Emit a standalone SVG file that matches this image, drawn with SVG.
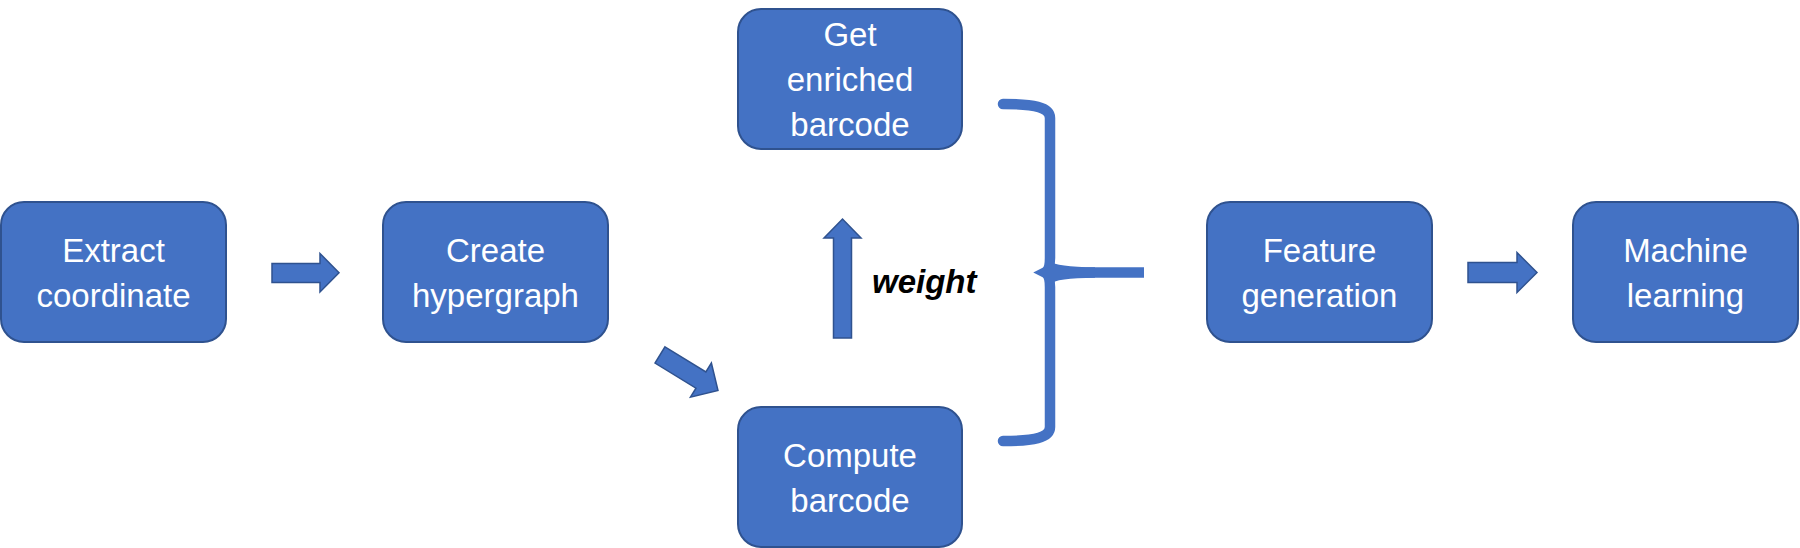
<svg xmlns="http://www.w3.org/2000/svg" width="1800" height="548" viewBox="0 0 1800 548">
<style>
.box{fill:#4472C4;stroke:#2F528F;stroke-width:2}
.lbl{fill:#FFFFFF;font-family:"Liberation Sans",Arial,sans-serif;font-size:33px;text-anchor:middle}
.arr{fill:#4472C4;stroke:#2F528F;stroke-width:1.5;stroke-linejoin:miter}
.brace{fill:none;stroke:#4472C4;stroke-width:10.5}
.wt{fill:#000000;font-family:"Liberation Sans",Arial,sans-serif;font-size:33px;font-weight:bold;font-style:italic}
</style>
<rect width="1800" height="548" fill="#FFFFFF"/>
<g id="connectors">
<polygon class="arr" points="272,263.5 320,263.5 320,253.5 339,272.7 320,292 320,282.5 272,282.5"/>
<polygon class="arr" points="1468,262.5 1517,262.5 1517,252.5 1537,272.5 1517,292.5 1517,282.5 1468,282.5"/>
<polygon class="arr" transform="translate(660,355) rotate(31.5)" points="0,-9.5 48,-9.5 48,-20 68,0 48,20 48,9.5 0,9.5"/>
<polygon class="arr" points="833.5,338 833.5,238 824,238 842.5,219 861,238 851.5,238 851.5,338"/>
<path class="brace" stroke-linecap="round" d="M1003,104 C1033,104 1050,107 1050,118 L1050,258 C1050,268 1048,271 1045,272.5 C1048,274 1050,277 1050,287 L1050,427 C1050,438 1033,441 1003,441"/>
<path class="brace" stroke-linecap="butt" d="M1046,272.5 L1144,272.5"/>
<path fill="#4472C4" d="M1050,261 Q1056,267 1095,267.3 L1095,277.7 Q1056,278 1050,284 Z"/>
<text class="wt" x="872" y="293">weight</text>
</g>
<g id="extract">
<rect class="box" x="1" y="202" width="225" height="140" rx="23"/>
<text class="lbl" x="113.5" y="262">Extract</text>
<text class="lbl" x="113.5" y="307">coordinate</text>
</g>
<g id="create">
<rect class="box" x="383" y="202" width="225" height="140" rx="23"/>
<text class="lbl" x="495.5" y="262">Create</text>
<text class="lbl" x="495.5" y="307">hypergraph</text>
</g>
<g id="enriched">
<rect class="box" x="738" y="9" width="224" height="140" rx="23"/>
<text class="lbl" x="850" y="46">Get</text>
<text class="lbl" x="850" y="91">enriched</text>
<text class="lbl" x="850" y="136">barcode</text>
</g>
<g id="compute">
<rect class="box" x="738" y="407" width="224" height="140" rx="23"/>
<text class="lbl" x="850" y="467">Compute</text>
<text class="lbl" x="850" y="512">barcode</text>
</g>
<g id="feature">
<rect class="box" x="1207" y="202" width="225" height="140" rx="23"/>
<text class="lbl" x="1319.5" y="262">Feature</text>
<text class="lbl" x="1319.5" y="307">generation</text>
</g>
<g id="machine">
<rect class="box" x="1573" y="202" width="225" height="140" rx="23"/>
<text class="lbl" x="1685.5" y="262">Machine</text>
<text class="lbl" x="1685.5" y="307">learning</text>
</g>
</svg>
